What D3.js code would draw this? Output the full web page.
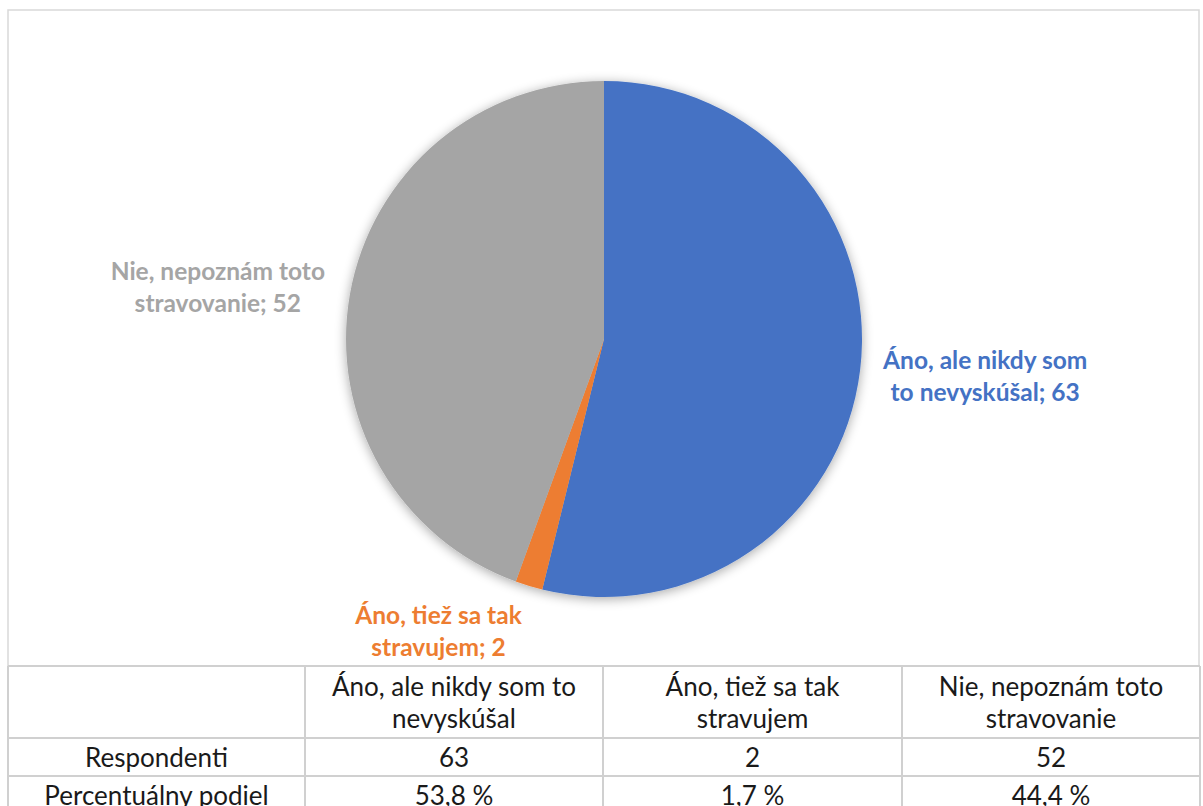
<!DOCTYPE html>
<html>
<head>
<meta charset="utf-8">
<script src="https://cdn.jsdelivr.net/npm/d3@7"></script>
<style>
  html, body { margin: 0; padding: 0; background: #ffffff; }
  svg { display: block; }
  text { font-family: Lato, "Open Sans", sans-serif; }
</style>
</head>
<body>
<svg id="chart" width="1203" height="806"></svg>
<script>
// Survey answers and counts
const categories = [
  "Áno, ale nikdy som to nevyskúšal",
  "Áno, tiež sa tak stravujem",
  "Nie, nepoznám toto stravovanie"
];
const respondents = [63, 2, 52];
const shares = ["53,8 %", "1,7 %", "44,4 %"];
const rowLabels = ["Respondenti", "Percentuálny podiel"];

// Word count on the first line of each wrapped label
const pieLabelBreaks = [4, 4, 3];
const tableHeaderBreaks = [5, 4, 3];

const sliceColors = ["#4472C4", "#ED7D31", "#A5A5A5"];

const W = 1203, H = 806;
const svg = d3.select("#chart");

// Frame around the plot area
const frame = { x0: 8, y0: 10, x1: 1199, y1: 666 };
svg.append("rect")
  .attr("x", frame.x0).attr("y", frame.y0)
  .attr("width", frame.x1 - frame.x0).attr("height", frame.y1 - frame.y0)
  .attr("fill", "#fff").attr("stroke", "#d9d9d9").attr("stroke-width", 1.5);

// Soft shadow behind the pie
const defs = svg.append("defs");
const f = defs.append("filter").attr("id", "pieShadow")
  .attr("x", "-20%").attr("y", "-20%").attr("width", "140%").attr("height", "140%");
f.append("feGaussianBlur").attr("in", "SourceAlpha").attr("stdDeviation", 6).attr("result", "b");
f.append("feOffset").attr("in", "b").attr("dx", 0).attr("dy", 2).attr("result", "o");
f.append("feComponentTransfer").attr("in", "o").attr("result", "s")
  .append("feFuncA").attr("type", "linear").attr("slope", 0.35);
const fm = f.append("feMerge");
fm.append("feMergeNode").attr("in", "s");
fm.append("feMergeNode").attr("in", "SourceGraphic");

const cx = 604, cy = 339, r = 258;
const data = categories.map((c, i) => ({ name: c, value: respondents[i], i }));

const pie = d3.pie().value(d => d.value).sort(null);
const arcs = pie(data);
const arc = d3.arc().innerRadius(0).outerRadius(r);

const g = svg.append("g").attr("transform", `translate(${cx},${cy})`);
g.append("g").attr("filter", "url(#pieShadow)")
  .selectAll("path").data(arcs).join("path")
  .attr("d", arc)
  .attr("fill", d => sliceColors[d.data.i]);

// Data labels placed outside the slices
const labelArc = d3.arc().innerRadius(r + 125).outerRadius(r + 125);
const labelNudge = [[1, -10], [-54, -75], [-9, 14]];

function wrap(words, n) {
  return [words.slice(0, n).join(" "), words.slice(n).join(" ")];
}

arcs.forEach(a => {
  const i = a.data.i;
  const [px, py] = labelArc.centroid(a);
  const lx = px + labelNudge[i][0], ly = py + labelNudge[i][1];
  const words = (a.data.name + "; " + a.data.value).split(" ");
  const lines = wrap(words, pieLabelBreaks[i]);
  const t = g.append("text")
    .attr("text-anchor", "middle")
    .attr("fill", sliceColors[i])
    .attr("font-size", 24.5)
    .attr("font-weight", "bold");
  lines.forEach((ln, k) => {
    t.append("tspan").attr("x", lx).attr("y", ly + (k - 0.5) * 32)
      .attr("dominant-baseline", "central").text(ln);
  });
});

// Data table under the chart
const colX = [8, 305, 603, 902, 1200];
const rowY = [666, 738, 776, 814];
const tbl = svg.append("g");
const lineColor = "#d0d0d0";

rowY.forEach(y => tbl.append("line")
  .attr("x1", colX[0]).attr("x2", colX[colX.length - 1])
  .attr("y1", y).attr("y2", y)
  .attr("stroke", lineColor).attr("stroke-width", 2));
colX.forEach(x => tbl.append("line")
  .attr("x1", x).attr("x2", x)
  .attr("y1", rowY[0]).attr("y2", rowY[rowY.length - 1])
  .attr("stroke", lineColor).attr("stroke-width", 2));

function cellText(col, row, lines) {
  const x = (colX[col] + colX[col + 1]) / 2;
  const ymid = (rowY[row] + rowY[row + 1]) / 2;
  const t = tbl.append("text").attr("text-anchor", "middle")
    .attr("fill", "#1a1a1a").attr("font-size", 26);
  lines.forEach((ln, k) => {
    t.append("tspan").attr("x", x)
      .attr("y", ymid + (k - (lines.length - 1) / 2) * 32)
      .attr("dominant-baseline", "central").text(ln);
  });
}

categories.forEach((c, i) => cellText(i + 1, 0, wrap(c.split(" "), tableHeaderBreaks[i])));
cellText(0, 1, [rowLabels[0]]);
cellText(0, 2, [rowLabels[1]]);
respondents.forEach((v, i) => cellText(i + 1, 1, [String(v)]));
shares.forEach((s, i) => cellText(i + 1, 2, [s]));
</script>
</body>
</html>
